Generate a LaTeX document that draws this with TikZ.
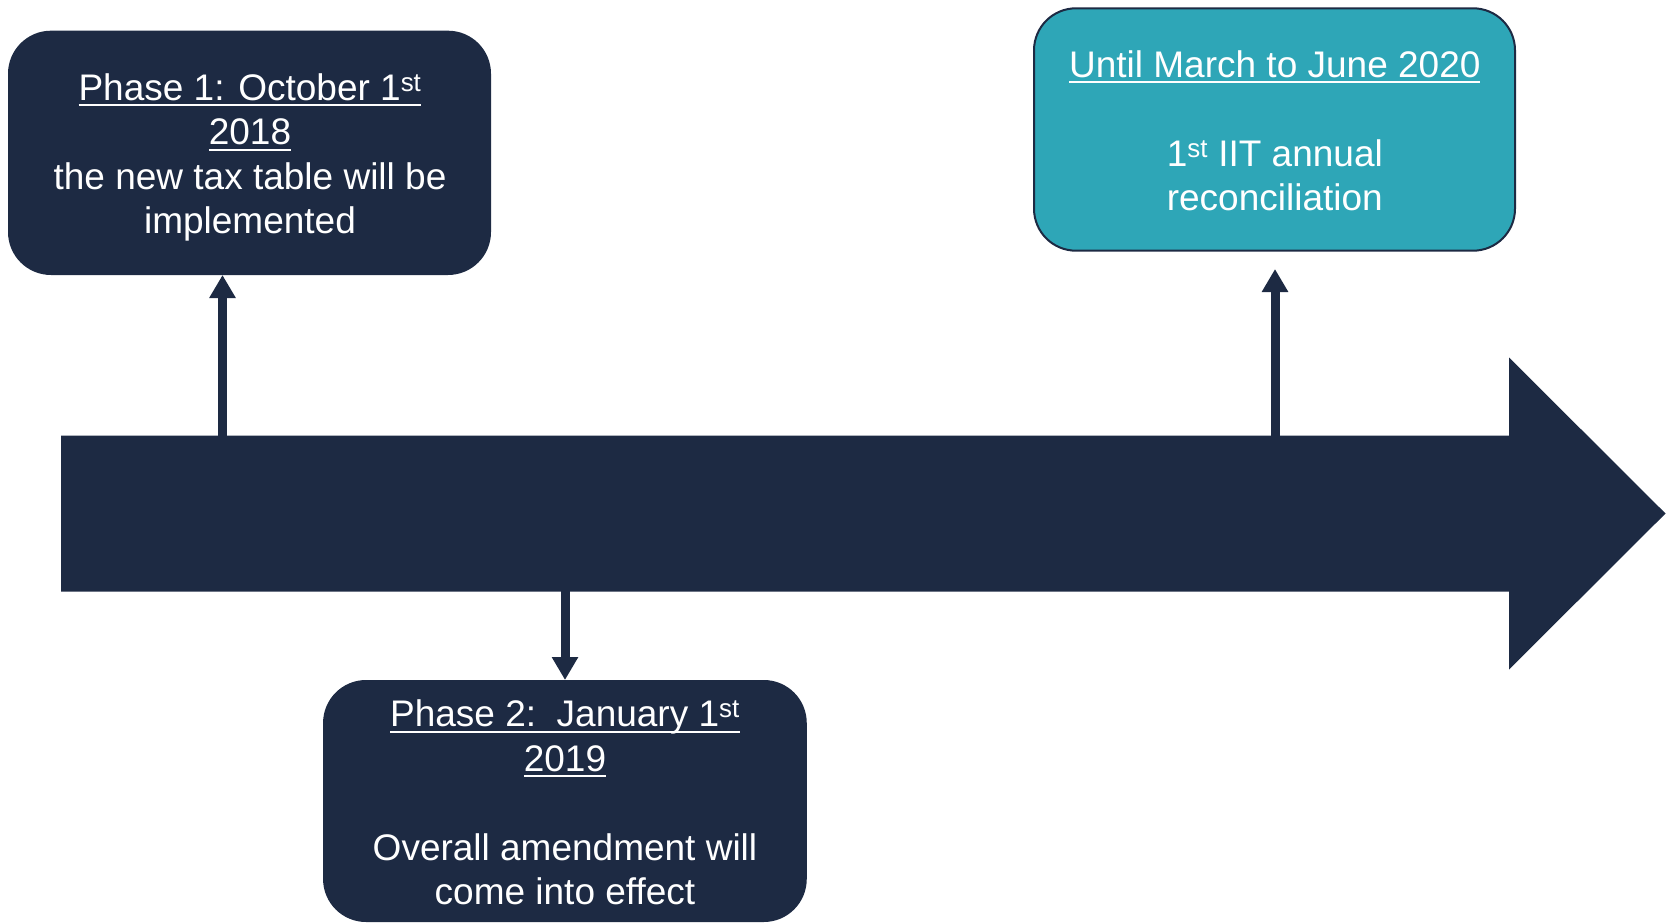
\documentclass[tikz,border=0pt]{standalone}
\usepackage{fontspec}
\setmainfont{Liberation Sans}
\usetikzlibrary{arrows.meta}
\definecolor{navy}{HTML}{1D2A43}
\definecolor{tealbox}{HTML}{2EA6B7}
\newcommand{\myul}[1]{{\setbox0\hbox{#1}\rlap{\rule[-6pt]{\wd0}{2pt}}\box0}}
\begin{document}
\begin{tikzpicture}[x=1pt,y=-1pt,
  box/.style={rectangle, rounded corners=42pt, draw=navy, line width=2pt, fill=navy},
  txt/.style={text=white, align=center, inner sep=0pt, font=\fontsize{37}{44.5}\selectfont, anchor=north},
  conn/.style={draw=navy, line width=9pt, -{Triangle[width=25pt,length=23pt]}}]
\useasboundingbox (0,0) rectangle (1669,923);
% main timeline arrow
\fill[navy] (61,435.5) -- (1509,435.5) -- (1509,357.5) -- (1665.5,513.5)
  -- (1509,669.5) -- (1509,591.5) -- (61,591.5) -- cycle;
% boxes
\node[box, minimum width=481pt, minimum height=242.3pt] (b1) at (249.5,152.85) {};
\node[box, fill=tealbox, minimum width=481pt, minimum height=242.4pt] (b2) at (1274.5,129.5) {};
\node[box, minimum width=481.7pt, minimum height=240pt] (b3) at (564.9,801) {};
% texts
\node[txt] (t1) at (250,68.85) {\strut\myul{Phase 1: October 1\textsuperscript{st}}\\ \myul{2018}\\ the new tax table will be\\ implemented};
\node[txt] (t2) at (1274.8,45.85) {\strut\myul{Until March to June 2020}\\[44.5pt] 1\textsuperscript{st} IIT annual\\ reconciliation};
\node[txt] (t3) at (565,695.55) {\strut\myul{Phase 2:\ \ January 1\textsuperscript{st}}\\ \myul{2019}\\[44.5pt] Overall amendment will\\ come into effect};
% connectors
\coordinate (s1) at (222.5,470);
\coordinate (s2) at (565,560);
\coordinate (s3) at (1275,470);
\coordinate (e3) at (1275,269);
\draw[conn] (s1) -- (s1 |- b1.south);
\draw[conn] (s2) -- (s2 |- b3.north);
\draw[conn] (s3) -- (e3);
\end{tikzpicture}
\end{document}
